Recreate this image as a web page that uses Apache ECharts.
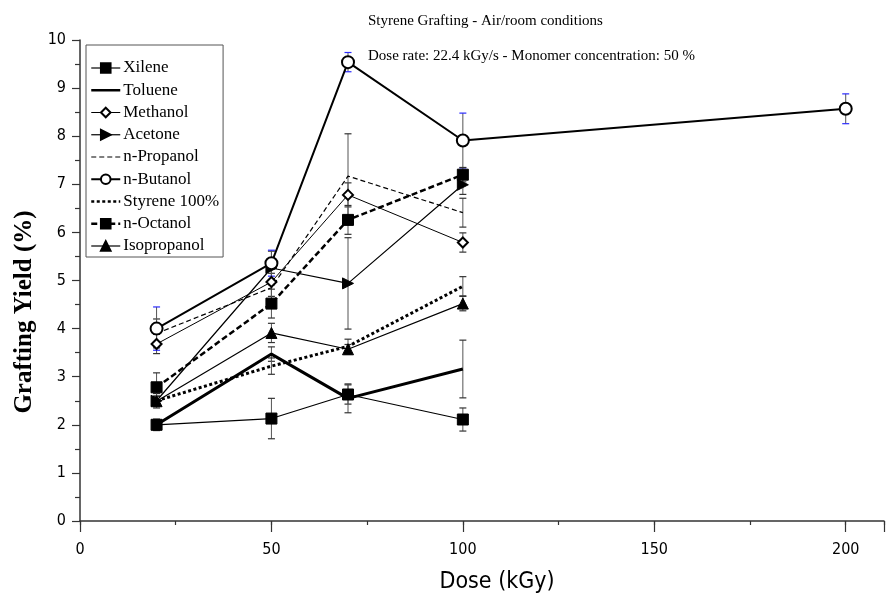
<!DOCTYPE html>
<html>
<head>
<meta charset="utf-8">
<script src="https://cdn.jsdelivr.net/npm/echarts@6/dist/echarts.min.js"></script>
<style>
html,body{margin:0;padding:0;background:#fff;}
#c{width:887px;height:595px;}
</style>
</head>
<body>
<div id="c"></div>
<script>
// ---- data ----
const doses = [20, 50, 70, 100];
const dosesButanol = [20, 50, 70, 100, 200];
const seriesNames = ['Xilene','Toluene','Methanol','Acetone','n-Propanol','n-Butanol','Styrene 100%','n-Octanol','Isopropanol'];

const xilene      = [2.0, 2.13, 2.63, 2.11];
const toluene     = [2.0, 3.47, 2.55, 3.16];
const methanol    = [3.68, 4.97, 6.78, 5.79];
const acetone     = [2.5, 5.26, 4.94, 6.99];
const nPropanol   = [3.9, 4.85, 7.17, 6.41];
const nButanol    = [4.0, 5.36, 9.54, 7.91, 8.57];
const styrene     = [2.5, 3.22, 3.63, 4.88];
const nOctanol    = [2.78, 4.52, 6.26, 7.2];
const isopropanol = [2.49, 3.91, 3.57, 4.52];

// symmetric error half-widths
const errXilene      = [0.1, 0.42, 0.2, 0.24];
const errToluene     = [0.12, 0.15, 0.3, 0.6];
const errMethanol    = [0.2, 0.3, 0.25, 0.2];
const errAcetone     = [0.15, 0.35, 0.95, 0.2];
const errNPropanol   = [0.3, 0.3, 0.88, 0.3];
const errNButanol    = [0.45, 0.27, 0.2, 0.57, 0.31];
const errStyrene     = [0.1, 0.17, 0.15, 0.2];
const errNOctanol    = [0.3, 0.3, 0.3, 0.15];
const errIsopropanol = [0.1, 0.2, 0.1, 0.15];

const xTicks = [0, 50, 100, 150, 200];
const yTicks = [0,1,2,3,4,5,6,7,8,9,10];

// ---- build ----
const pairs = (xs, ys) => xs.map((x, i) => [x, ys[i]]);
const triples = (xs, ys, es) => xs.map((x, i) => [x, ys[i], es[i]]);

const defs = [
  {name:'Xilene', xs:doses, ys:xilene, es:errXilene, symbol:'rect', size:11, lw:1.2, type:'solid'},
  {name:'Toluene', xs:doses, ys:toluene, es:errToluene, symbol:'none', size:0, lw:3, type:'solid'},
  {name:'Methanol', xs:doses, ys:methanol, es:errMethanol, symbol:'emptyDiamond', size:10, lw:1, type:'solid'},
  {name:'Acetone', xs:doses, ys:acetone, es:errAcetone, symbol:'triangle', size:11, lw:1.2, type:'solid', rotate:-90},
  {name:'n-Propanol', xs:doses, ys:nPropanol, es:errNPropanol, symbol:'none', size:0, lw:1.2, type:[5,3]},
  {name:'n-Butanol', xs:dosesButanol, ys:nButanol, es:errNButanol, symbol:'emptyCircle', size:12, lw:2, type:'solid', cap:'#2a2aff'},
  {name:'Styrene 100%', xs:doses, ys:styrene, es:errStyrene, symbol:'none', size:0, lw:3, type:[3,2.5]},
  {name:'n-Octanol', xs:doses, ys:nOctanol, es:errNOctanol, symbol:'rect', size:11, lw:2.5, type:[6,3]},
  {name:'Isopropanol', xs:doses, ys:isopropanol, es:errIsopropanol, symbol:'triangle', size:11, lw:1.2, type:'solid'}
];

const series = [];
defs.forEach(d => {
  series.push({
    type:'custom',
    name: d.name + ' err',
    z: 1,
    silent: true,
    data: triples(d.xs, d.ys, d.es),
    renderItem: function(params, api){
      const x = api.value(0), y = api.value(1), e = api.value(2);
      const t = api.coord([x, y + e]), b = api.coord([x, y - e]);
      const cw = 3.5;
      const capC = d.cap || '#333';
      return {type:'group', children:[
        {type:'line', shape:{x1:t[0], y1:t[1], x2:b[0], y2:b[1]}, style:{stroke:'#555', lineWidth:1}},
        {type:'line', shape:{x1:t[0]-cw, y1:t[1], x2:t[0]+cw, y2:t[1]}, style:{stroke:capC, lineWidth:1.2}},
        {type:'line', shape:{x1:b[0]-cw, y1:b[1], x2:b[0]+cw, y2:b[1]}, style:{stroke:capC, lineWidth:1.2}}
      ]};
    }
  });
});
defs.forEach(d => {
  series.push({
    type:'line',
    name: d.name,
    z: 3,
    data: pairs(d.xs, d.ys),
    symbol: d.symbol,
    symbolSize: d.size,
    symbolRotate: d.rotate || 0,
    showAllSymbol: true,
    color:'#000',
    itemStyle:{color:'#000', borderColor:'#000', borderWidth:1},
    lineStyle:{color:'#000', width:d.lw, type:d.type},
    emphasis:{disabled:true},
    animation:false
  });
});

const legendData = defs.map(d => {
  const item = {name:d.name, lineStyle:{width:Math.min(d.lw, 2.5), type:d.type, color:'#000'}};
  if (d.symbol === 'none') item.itemStyle = {opacity:0};
  return item;
});

const chart = echarts.init(document.getElementById('c'), null, {renderer:'canvas'});
const sansNarrow = "'Liberation Sans Narrow','DejaVu Sans Condensed','DejaVu Sans',sans-serif";
const serif = "'Liberation Serif','DejaVu Serif',serif";

chart.setOption({
  animation:false,
  backgroundColor:'#fff',
  title:[
    {text:'Styrene Grafting - Air/room conditions', left:363, top:9,
     textStyle:{fontFamily:serif, fontSize:15, fontWeight:'normal', color:'#000'}},
    {text:'Dose rate: 22.4 kGy/s - Monomer concentration: 50 %', left:363, top:44,
     textStyle:{fontFamily:serif, fontSize:15, fontWeight:'normal', color:'#000'}}
  ],
  graphic:[
    {type:'text', x:25, y:312, rotation:Math.PI/2,
     style:{text:'Grafting Yield (%)', fontFamily:serif, fontSize:25, fontWeight:'bold', fill:'#000',
            align:'center', verticalAlign:'middle'}},
    {type:'text', x:497, y:582,
     style:{text:'Dose (kGy)', fontFamily:sansNarrow, fontSize:23, fill:'#000',
            align:'center', verticalAlign:'middle'}}
  ],
  legend:{
    data: legendData,
    orient:'vertical',
    left:86, top:45,
    padding:[14.5, 4, 2.5, 4],
    itemGap:5.25,
    itemWidth:29, itemHeight:12,
    borderColor:'#555', borderWidth:1,
    selectedMode:false,
    textStyle:{fontFamily:serif, fontSize:17, color:'#000', padding:[0,0,0,-2]}
  },
  grid:{left:80, right:-9, top:40, bottom:74, containLabel:false},
  xAxis:[{
    type:'value', min:0, max:210, interval:50,
    axisLine:{lineStyle:{color:'#333', width:1.5}},
    axisTick:{show:true, length:11, lineStyle:{color:'#333', width:1.2}},
    axisLabel:{color:'#000', fontFamily:sansNarrow, fontSize:16, margin:21,
      formatter: v => (xTicks.indexOf(v) >= 0 ? String(v) : '')},
    splitLine:{show:false}
  },{
    type:'value', min:0, max:210, interval:25, position:'bottom',
    axisLine:{show:false},
    axisTick:{show:true, length:4, lineStyle:{color:'#333', width:1.2}},
    axisLabel:{show:false},
    splitLine:{show:false}
  }],
  yAxis:{
    type:'value', min:0, max:10, interval:1,
    axisLine:{show:true, lineStyle:{color:'#333', width:1.5}},
    axisTick:{show:true, length:8, lineStyle:{color:'#333', width:1.2}},
    minorTick:{show:true, splitNumber:2, length:5, lineStyle:{color:'#333', width:1.2}},
    axisLabel:{color:'#000', fontFamily:sansNarrow, fontSize:16, margin:14,
      formatter: v => (yTicks.indexOf(v) >= 0 ? String(v) : '')},
    splitLine:{show:false}
  },
  series: series
});
</script>
</body>
</html>
